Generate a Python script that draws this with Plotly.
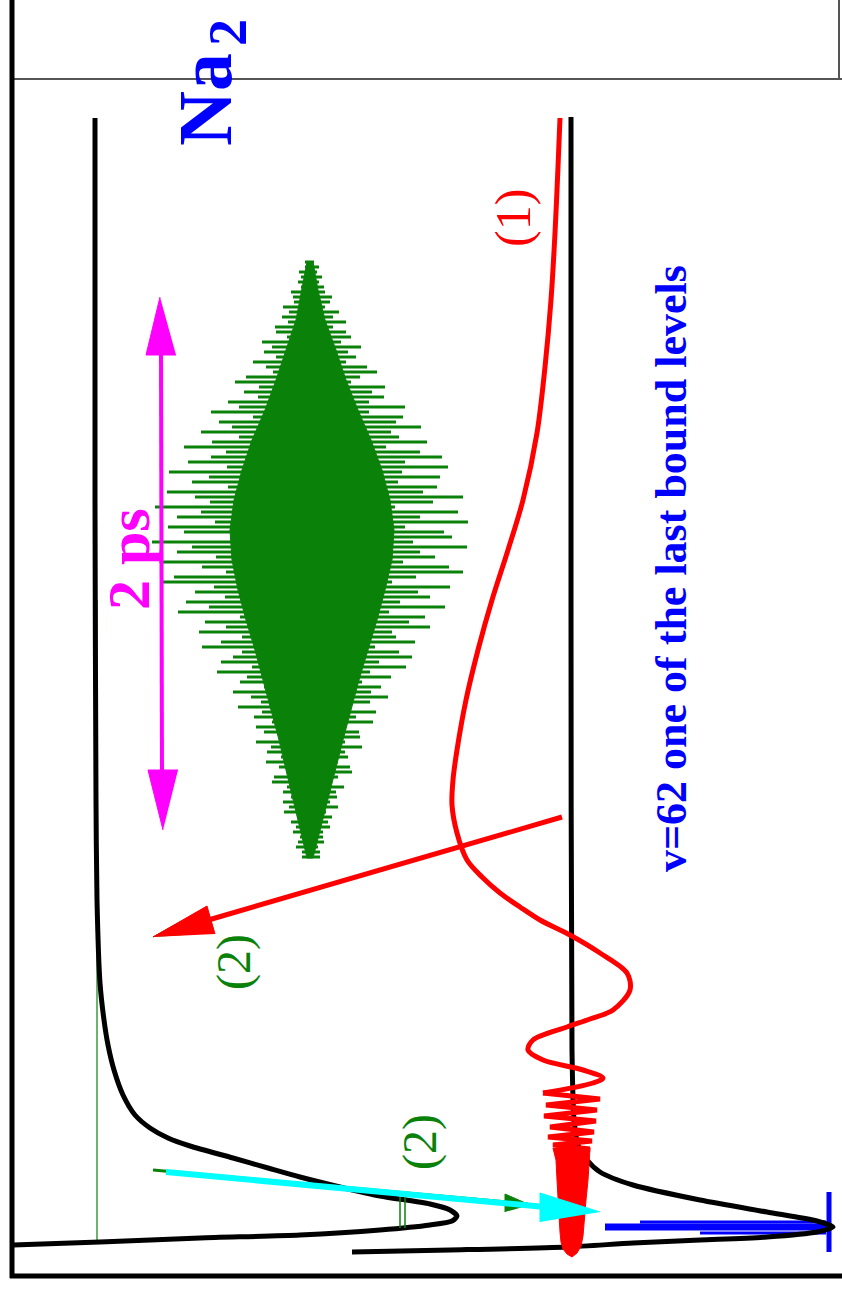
import plotly.graph_objects as go

W, H = 842, 1289

# ---- potential curves (energy grows to the left, R grows upwards) ----
upper_pot_x = [95, 95, 96, 97, 100, 104, 108, 114, 123, 135, 150, 168, 190, 233, 268, 300,
               340, 380, 430, 450, 457, 452, 430, 380, 300, 200, 100, 13]
upper_pot_y = [118, 500, 800, 900, 983, 1020, 1045, 1070, 1095, 1115, 1128, 1138, 1146, 1158,
               1168, 1177, 1187, 1196, 1204, 1210, 1216, 1221, 1225, 1230, 1235, 1238, 1242, 1245]

ground_pot_x = [571, 571, 572, 574, 578, 587, 600, 633, 700, 767, 817, 833, 817, 767,
                700, 633, 567, 450, 352]
ground_pot_y = [117, 600, 1050, 1120, 1145, 1160, 1172, 1185, 1200, 1212, 1221, 1227, 1232, 1237,
                1240, 1243, 1247, 1250, 1252]

# dissociation limit of state (2)
limit2_x = [97, 97]
limit2_y = [600, 1243]

# ---- continuum wavefunction (1) ----
wf1_smooth_x = [560, 558, 555, 551, 545, 537, 523, 508, 492, 478, 466, 457, 453, 452, 457,
                467, 482, 500, 520, 540, 570, 600, 627, 630, 613, 590, 567, 533, 528, 543, 583,
                603, 593, 543]
wf1_smooth_y = [118, 167, 233, 300, 367, 433, 500, 550, 600, 650, 700, 750, 780, 805, 833,
                860, 877, 893, 907, 920, 935, 953, 973, 990, 1010, 1019, 1027, 1040, 1050, 1060,
                1070, 1078, 1083, 1093]
wf1_fast_x = [543, 600, 546, 597, 544, 596, 550, 594, 548, 592, 553, 590, 555, 589]
wf1_fast_y = [1093, 1099, 1105, 1110, 1116, 1121, 1127, 1132, 1137, 1141, 1145, 1149, 1152, 1155]
wf1_core_x = [553, 556, 557, 558, 559, 560, 561, 563, 567, 572, 577, 581, 583, 584, 586, 588, 589,
              590]
wf1_core_y = [1148, 1160, 1180, 1200, 1218, 1232, 1242, 1249, 1254, 1257, 1253, 1246, 1236, 1220,
              1200, 1180, 1160, 1148]

# ---- bound level v=62 ----
v62_band_x = [605, 829]; v62_band_y = [1227, 1227]
v62_up_x = [640, 826];   v62_up_y = [1222, 1222]
v62_lo_x = [700, 826];   v62_lo_y = [1233, 1233]
v62_bar_x = [829, 829];  v62_bar_y = [1192, 1252]

# ---- wave packet (2): spike lengths left / right of its centre, one row per 5 units ----
packet_center = 310
packet_top = 262
packet_step = 5
packet_left = [5, 5, 11, 9, 12, 9, 19, 17, 16, 27, 21, 28, 22, 35, 34, 23, 48, 38, 46, 34,
               57, 44, 37, 64, 75, 51, 66, 52, 82, 71, 99, 57, 91, 78, 109, 71, 98, 126, 84, 99,
               122, 83, 141, 101, 118, 82, 143, 115, 100, 155, 109, 133, 95, 142, 126, 79, 158, 118, 133, 94,
               147, 108, 84, 136, 149, 96, 115, 85, 124, 101, 132, 70, 105, 84, 111, 68, 89, 108, 68, 77,
               89, 58, 93, 63, 70, 46, 77, 59, 49, 72, 48, 56, 38, 54, 46, 28, 54, 39, 43, 29,
               44, 31, 23, 36, 38, 23, 27, 19, 27, 21, 26, 13, 19, 14, 17, 10, 12, 14, 8, 8]
packet_right = [4, 9, 7, 12, 9, 14, 15, 22, 20, 15, 29, 23, 36, 23, 36, 41, 31, 51, 38, 46,
                36, 57, 67, 50, 41, 75, 62, 74, 59, 95, 59, 93, 86, 111, 81, 89, 117, 76, 110, 132,
                95, 138, 92, 130, 88, 127, 113, 153, 123, 85, 148, 110, 158, 95, 134, 142, 103, 157, 110, 125,
                93, 139, 153, 106, 82, 140, 108, 120, 90, 135, 79, 115, 99, 120, 82, 86, 105, 65, 89, 102,
                69, 96, 60, 81, 52, 71, 61, 78, 60, 40, 66, 46, 63, 36, 49, 50, 35, 52, 35, 38,
                28, 40, 42, 28, 21, 34, 26, 27, 20, 28, 16, 22, 18, 20, 13, 13, 14, 8, 10, 10]
packet_core_y = [262, 290, 320, 350, 380, 410, 440, 470, 500, 530, 560, 590, 620, 650, 680, 710,
                 740, 770, 800, 830, 858]
packet_core_l = [3, 8, 14, 24, 34, 45, 58, 68, 76, 80, 78, 72, 64, 55, 47, 39, 31, 24, 17, 10, 3]
packet_core_r = [3, 8, 15, 26, 36, 48, 61, 72, 80, 84, 82, 75, 67, 58, 49, 41, 33, 25, 18, 10, 3]

# ---- arrows ----
red_arrow_x = [562, 205];  red_arrow_y = [817, 921]
red_head_x = [153, 207, 215];  red_head_y = [937, 906, 934]
red_head_green_x = [153, 180, 184];  red_head_green_y = [937, 922, 935]

cyan_arrow_x = [166, 545];  cyan_arrow_y = [1172, 1207]
cyan_head_x = [600, 540, 540];  cyan_head_y = [1212, 1193, 1222]
green_arrow_x = [153, 528];  green_arrow_y = [1170, 1204]
green_head_x = [530, 505, 505];  green_head_y = [1205, 1194, 1212]
green_ticks_x = [[400, 400], [405, 405]]
green_ticks_y = [[1197, 1228], [1197, 1228]]

span_line_x = [161, 162];  span_line_y = [350, 775]
span_top_x = [160, 146, 176];  span_top_y = [297, 355, 355]
span_bot_x = [163, 148, 178];  span_bot_y = [830, 770, 770]

# ---- frame ----
frame_left_x = [12, 12];   frame_left_y = [0, 1278]
frame_bottom_x = [10, 842]; frame_bottom_y = [1276, 1276]
frame_top_x = [12, 842];   frame_top_y = [79, 79]
frame_right_x = [839, 839]; frame_right_y = [0, 79]

BLACK, RED, BLUE, GREEN = "#000000", "#ff0000", "#0000ff", "#0a820a"
CYAN, MAGENTA = "#00ffff", "#ff00ff"

fig = go.Figure()


def line(x, y, color, width, shape="linear", smoothing=1.0):
    fig.add_trace(go.Scatter(x=x, y=y, mode="lines", hoverinfo="skip", showlegend=False,
                             line=dict(color=color, width=width, shape=shape,
                                       smoothing=smoothing)))


def patch(x, y, color):
    fig.add_trace(go.Scatter(x=x, y=y, mode="lines", fill="toself", fillcolor=color,
                             hoverinfo="skip", showlegend=False,
                             line=dict(color=color, width=1)))


# frame
line(frame_top_x, frame_top_y, "#555555", 2)
line(frame_right_x, frame_right_y, "#555555", 2)
line(frame_left_x, frame_left_y, BLACK, 5)
line(frame_bottom_x, frame_bottom_y, BLACK, 5)

# bound level v=62 (under the potential)
line(v62_band_x, v62_band_y, BLUE, 7)
line(v62_up_x, v62_up_y, BLUE, 3)
line(v62_lo_x, v62_lo_y, BLUE, 3)
line(v62_bar_x, v62_bar_y, BLUE, 5)

# potentials
line(limit2_x, limit2_y, GREEN, 1.2)
line(upper_pot_x, upper_pot_y, BLACK, 5, "spline", 0.7)
line(ground_pot_x, ground_pot_y, BLACK, 5, "spline", 0.7)

# wave packet: solid core plus one horizontal spike per row
core_x = [packet_center - v for v in packet_core_l] + [packet_center + v for v in packet_core_r[::-1]]
core_y = packet_core_y + packet_core_y[::-1]
patch(core_x, core_y, GREEN)
zx, zy = [], []
for i, (l, r) in enumerate(zip(packet_left, packet_right)):
    yv = packet_top + packet_step * i
    zx += [packet_center - l, packet_center + r, None]
    zy += [yv, yv, None]
line(zx, zy, GREEN, 3)

# continuum wavefunction (1)
line(wf1_smooth_x, wf1_smooth_y, RED, 5, "spline", 0.9)
line(wf1_fast_x, wf1_fast_y, RED, 5)
patch(wf1_core_x, wf1_core_y, RED)

# green markers under the arrows
line(green_ticks_x[0], green_ticks_y[0], GREEN, 1.5)
line(green_ticks_x[1], green_ticks_y[1], GREEN, 1.5)
line(green_arrow_x, green_arrow_y, GREEN, 3)
patch(green_head_x, green_head_y, GREEN)
patch(red_head_green_x, red_head_green_y, GREEN)

# arrows
line(cyan_arrow_x, cyan_arrow_y, CYAN, 6)
patch(cyan_head_x, cyan_head_y, CYAN)
line(red_arrow_x, red_arrow_y, RED, 5)
patch(red_head_x, red_head_y, RED)
line(span_line_x, span_line_y, MAGENTA, 4)
patch(span_top_x, span_top_y, MAGENTA)
patch(span_bot_x, span_bot_y, MAGENTA)

SERIF = "Liberation Serif"


def label(text, x, y, size, color, bold=False):
    fig.add_annotation(x=x, y=y, text=text, showarrow=False, textangle=-90,
                       xanchor="center", yanchor="middle",
                       font=dict(family=SERIF, size=size, color=color,
                                 weight="bold" if bold else "normal"))


label("Na", 205, 100, 76, BLUE, True)
label("2", 228, 33, 54, BLUE, True)
label("v=62 one of the last bound levels", 671, 569, 44, BLUE, True)
label("2 ps", 129, 559, 60, MAGENTA, True)
label("(1)", 513, 218, 50, RED)
label("(2)", 234, 962, 48, GREEN)
label("(2)", 420, 1142, 48, GREEN)

fig.update_layout(
    width=W, height=H, margin=dict(l=0, r=0, t=0, b=0),
    paper_bgcolor="white", plot_bgcolor="white",
    xaxis=dict(range=[0, W], visible=False, fixedrange=True),
    yaxis=dict(range=[H, 0], visible=False, fixedrange=True),
)

fig.write_html("out.html")
